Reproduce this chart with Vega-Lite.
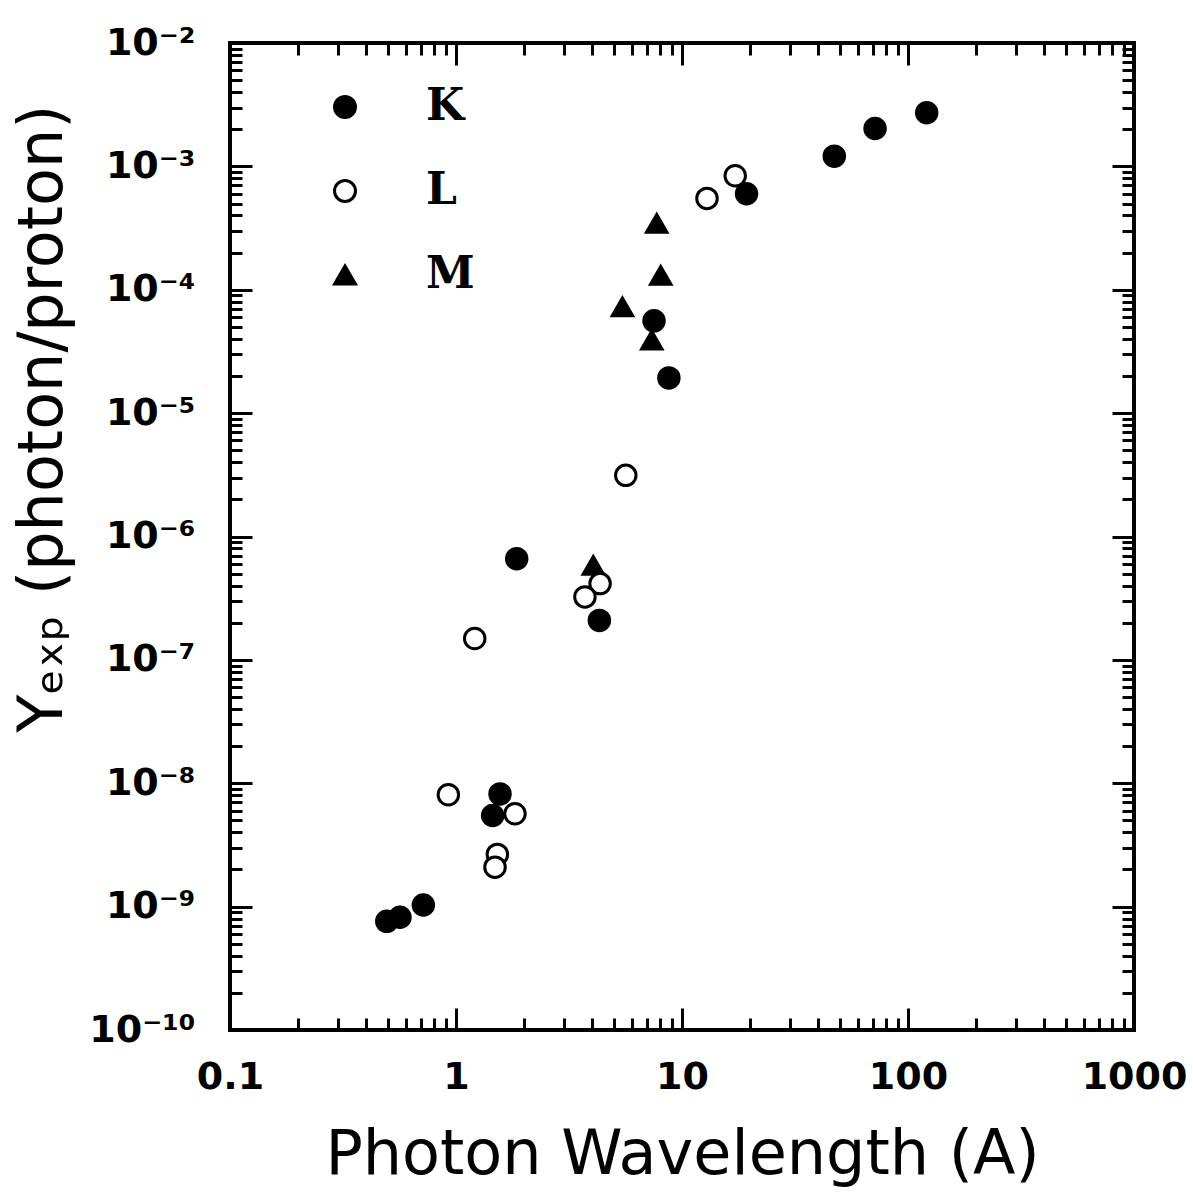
{
  "$schema": "https://vega.github.io/schema/vega-lite/v6.json",
  "width": 904,
  "height": 987,
  "autosize": "none",
  "padding": {"left": 230, "top": 43, "right": 59, "bottom": 174},
  "background": "white",
  "config": {
    "view": {"stroke": "black", "strokeWidth": 4},
    "axis": {"tickColor": "black", "tickWidth": 3, "domain": false, "grid": false, "labelColor": "black", "titleColor": "black", "labelOverlap": false, "labelFlush": false, "labelBound": false},
    "legend": {"symbolStrokeColor": "black", "symbolStrokeWidth": 3}
  },
  "datasets": {
    "pts": [
      {"wl": 121, "y": 2.72e-3, "shell": "K"},
      {"wl": 71.5, "y": 2.03e-3, "shell": "K"},
      {"wl": 47.2, "y": 1.21e-3, "shell": "K"},
      {"wl": 19.3, "y": 6.0e-4, "shell": "K"},
      {"wl": 7.52, "y": 5.6e-5, "shell": "K"},
      {"wl": 8.75, "y": 1.93e-5, "shell": "K"},
      {"wl": 1.856, "y": 6.6e-7, "shell": "K"},
      {"wl": 4.31, "y": 2.09e-7, "shell": "K"},
      {"wl": 1.566, "y": 8.2e-9, "shell": "K"},
      {"wl": 1.453, "y": 5.48e-9, "shell": "K"},
      {"wl": 0.717, "y": 1.03e-9, "shell": "K"},
      {"wl": 0.565, "y": 8.2e-10, "shell": "K"},
      {"wl": 0.494, "y": 7.6e-10, "shell": "K"},
      {"wl": 7.73, "y": 3.45e-4, "shell": "M"},
      {"wl": 8.05, "y": 1.31e-4, "shell": "M"},
      {"wl": 5.45, "y": 7.26e-5, "shell": "M"},
      {"wl": 7.35, "y": 3.9e-5, "shell": "M"},
      {"wl": 4.05, "y": 5.83e-7, "shell": "M"},
      {"wl": 17.2, "y": 8.4e-4, "shell": "L"},
      {"wl": 12.9, "y": 5.5e-4, "shell": "L"},
      {"wl": 5.64, "y": 3.13e-6, "shell": "L"},
      {"wl": 4.34, "y": 4.15e-7, "shell": "L"},
      {"wl": 3.72, "y": 3.24e-7, "shell": "L"},
      {"wl": 1.21, "y": 1.49e-7, "shell": "L"},
      {"wl": 0.925, "y": 8.07e-9, "shell": "L"},
      {"wl": 1.824, "y": 5.66e-9, "shell": "L"},
      {"wl": 1.524, "y": 2.65e-9, "shell": "L"},
      {"wl": 1.488, "y": 2.09e-9, "shell": "L"}
    ]
  },
  "data": {"name": "pts"},
  "layer": [
    {
      "mark": {"type": "point", "filled": true, "strokeWidth": 3, "opacity": 1, "fillOpacity": 1, "strokeOpacity": 1, "size": 420},
      "encoding": {
        "x": {"field": "wl", "type": "quantitative", "scale": {"type": "log", "domain": [0.1, 1000], "nice": false},
          "axis": {"orient": "bottom",
            "values": [0.1,0.2,0.3,0.4,0.5,0.6,0.7,0.8,0.9,1,2,3,4,5,6,7,8,9,10,20,30,40,50,60,70,80,90,100,200,300,400,500,600,700,800,900,1000],
            "tickSize": {"condition": {"test": "abs(log(datum.value)/LN10 - round(log(datum.value)/LN10)) < 0.001", "value": -22}, "value": -12},
            "labelExpr": "abs(log(datum.value)/LN10 - round(log(datum.value)/LN10)) < 0.001 ? '' + datum.value : ''",
            "labelFont": "DejaVu Sans", "labelFontSize": 38, "labelFontWeight": "bold", "labelPadding": 50,
            "title": "Photon Wavelength (A)", "titleFont": "DejaVu Sans", "titleFontSize": 62, "titleFontWeight": "normal", "titlePadding": 18}},
        "y": {"field": "y", "type": "quantitative", "scale": {"type": "log", "domain": [1e-10, 1e-2], "nice": false},
          "axis": {"orient": "left",
            "values": [1e-10,2e-10,3e-10,4e-10,5e-10,6e-10,7e-10,8e-10,9e-10,1e-9,2e-9,3e-9,4e-9,5e-9,6e-9,7e-9,8e-9,9e-9,1e-8,2e-8,3e-8,4e-8,5e-8,6e-8,7e-8,8e-8,9e-8,1e-7,2e-7,3e-7,4e-7,5e-7,6e-7,7e-7,8e-7,9e-7,1e-6,2e-6,3e-6,4e-6,5e-6,6e-6,7e-6,8e-6,9e-6,1e-5,2e-5,3e-5,4e-5,5e-5,6e-5,7e-5,8e-5,9e-5,1e-4,2e-4,3e-4,4e-4,5e-4,6e-4,7e-4,8e-4,9e-4,1e-3,2e-3,3e-3,4e-3,5e-3,6e-3,7e-3,8e-3,9e-3,1e-2],
            "tickSize": {"condition": {"test": "abs(log(datum.value)/LN10 - round(log(datum.value)/LN10)) < 0.001", "value": -22}, "value": -12},
            "labelExpr": "abs(log(datum.value)/LN10 - round(log(datum.value)/LN10)) < 0.001 ? '10⁻' + ['','','²','³','⁴','⁵','⁶','⁷','⁸','⁹','¹⁰'][round(-log(datum.value)/LN10)] : ''",
            "labelFont": "DejaVu Sans", "labelFontSize": 38, "labelFontWeight": "bold", "labelPadding": 57,
            "title": "Yₑₓₚ  (photon/proton)", "titleFont": "DejaVu Sans", "titleFontSize": 62, "titleFontWeight": "normal", "titlePadding": 14, "titleY": 375}},
        "shape": {"field": "shell", "type": "nominal", "scale": {"domain": ["K", "L", "M"], "range": ["circle", "circle", "triangle-up"]},
          "legend": {"orient": "none", "legendX": 93, "legendY": 42, "title": null, "padding": 0, "labelFont": "DejaVu Serif", "labelFontWeight": "bold", "labelFontSize": 44, "labelColor": "black", "symbolSize": 440, "symbolStrokeWidth": 3, "labelOffset": 59, "rowPadding": 40}},
        "fill": {"field": "shell", "type": "nominal", "scale": {"domain": ["K", "L", "M"], "range": ["black", "white", "black"]},
          "legend": {"orient": "none", "legendX": 93, "legendY": 42, "title": null, "padding": 0, "labelFont": "DejaVu Serif", "labelFontWeight": "bold", "labelFontSize": 44, "labelColor": "black", "symbolSize": 440, "symbolStrokeWidth": 3, "labelOffset": 59, "rowPadding": 40}},
        "stroke": {"field": "shell", "type": "nominal", "scale": {"domain": ["K", "L", "M"], "range": ["black", "black", "black"]},
          "legend": {"orient": "none", "legendX": 93, "legendY": 42, "title": null, "padding": 0, "labelFont": "DejaVu Serif", "labelFontWeight": "bold", "labelFontSize": 44, "labelColor": "black", "symbolSize": 440, "symbolStrokeWidth": 3, "labelOffset": 59, "rowPadding": 40}}
      }
    },
    {
      "mark": {"type": "point", "opacity": 0},
      "encoding": {
        "x": {"field": "wl", "type": "quantitative",
          "axis": {"orient": "top", "labels": false, "title": null,
            "values": [0.1,0.2,0.3,0.4,0.5,0.6,0.7,0.8,0.9,1,2,3,4,5,6,7,8,9,10,20,30,40,50,60,70,80,90,100,200,300,400,500,600,700,800,900,1000],
            "tickSize": {"condition": {"test": "abs(log(datum.value)/LN10 - round(log(datum.value)/LN10)) < 0.001", "value": -22}, "value": -12}}},
        "y": {"field": "y", "type": "quantitative",
          "axis": {"orient": "right", "labels": false, "title": null,
            "values": [1e-10,2e-10,3e-10,4e-10,5e-10,6e-10,7e-10,8e-10,9e-10,1e-9,2e-9,3e-9,4e-9,5e-9,6e-9,7e-9,8e-9,9e-9,1e-8,2e-8,3e-8,4e-8,5e-8,6e-8,7e-8,8e-8,9e-8,1e-7,2e-7,3e-7,4e-7,5e-7,6e-7,7e-7,8e-7,9e-7,1e-6,2e-6,3e-6,4e-6,5e-6,6e-6,7e-6,8e-6,9e-6,1e-5,2e-5,3e-5,4e-5,5e-5,6e-5,7e-5,8e-5,9e-5,1e-4,2e-4,3e-4,4e-4,5e-4,6e-4,7e-4,8e-4,9e-4,1e-3,2e-3,3e-3,4e-3,5e-3,6e-3,7e-3,8e-3,9e-3,1e-2],
            "tickSize": {"condition": {"test": "abs(log(datum.value)/LN10 - round(log(datum.value)/LN10)) < 0.001", "value": -22}, "value": -12}}}
      }
    }
  ],
  "resolve": {"axis": {"x": "independent", "y": "independent"}}
}
